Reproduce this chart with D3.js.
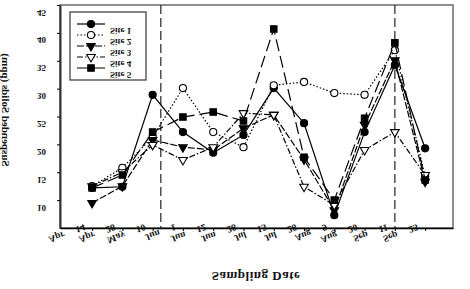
<!DOCTYPE html>
<html>
<head>
<meta charset="utf-8">
<script src="https://cdn.jsdelivr.net/npm/d3@7"></script>
<style>
  body { margin: 0; background: #fff; }
  svg text { font-family: "Liberation Serif", "Times New Roman", serif; font-weight: bold; fill: #111; }
</style>
</head>
<body>
<svg id="chart" width="470" height="289"></svg>
<script>
// sampling dates (categories)
const dates = ["Apr 14", "Apr 28", "May 10", "Jun 1", "Jun 12", "Jun 28",
               "Jul 15", "Jul 28", "Aug 9", "Aug 20", "Sep 11", "Sep 25"];

// suspended solids (ppm) per site
const site1 = [12.2, 12.4, 28.9, 22.2, 18.5, 21.7, 30.1, 23.8, 7.3, 22.2, 34.2, 19.3];
const site2 = [12.5, 15.8, 21.3, 30.1, 22.2, 19.5, 30.6, 31.2, 29.2, 28.9, 36.9, 14.3];
const site3 = [9.5, 12.5, 20.8, 19.5, 19.0, 22.9, 25.3, 17.3, 8.2, 23.5, 35.1, 13.3];
const site4 = [12.5, 15.0, 19.9, 17.2, 19.5, 25.6, 25.3, 12.4, 9.1, 19.0, 22.2, 14.5];
const site5 = [12.2, 14.5, 22.2, 24.9, 25.8, 24.2, 40.7, 17.7, 10.0, 24.7, 38.2, 13.6];

const siteNames = ["Site 1", "Site 2", "Site 3", "Site 4", "Site 5"];
const yTicks = [10, 15, 20, 25, 30, 35, 40, 45];

// event markers, in sampling-index units
const events = [2.27, 10];

const series = [
  { name: siteNames[0], values: site1, symbol: d3.symbolCircle, size: 40, fill: "#000", rot: 0, dash: null },
  { name: siteNames[1], values: site2, symbol: d3.symbolCircle, size: 40, fill: "#fff", rot: 0, dash: "1.5,2" },
  { name: siteNames[2], values: site3, symbol: d3.symbolTriangle, size: 32, fill: "#000", rot: 180, dash: "7,2" },
  { name: siteNames[3], values: site4, symbol: d3.symbolTriangle, size: 32, fill: "#fff", rot: 180, dash: "6,2,1.5,2" },
  { name: siteNames[4], values: site5, symbol: d3.symbolSquare, size: 42, fill: "#000", rot: 0, dash: "12,5" }
];

const svg = d3.select("#chart");

const x = d3.scaleLinear().domain([-1.06, 11.92]).range([60, 453]);
const y = d3.scaleLinear().domain([5, 45]).range([228, 5]);

// frame
svg.append("rect")
  .attr("x", 60).attr("y", 5)
  .attr("width", 393).attr("height", 223)
  .attr("fill", "none")
  .attr("stroke", "#555")
  .attr("stroke-width", 1.3);

// event lines
svg.selectAll(".event")
  .data(events)
  .enter()
  .append("line")
  .attr("x1", d => x(d)).attr("x2", d => x(d))
  .attr("y1", 5).attr("y2", 228)
  .attr("stroke", "#222")
  .attr("stroke-width", 1.2)
  .attr("stroke-dasharray", "9,4");

// y axis
const yAxis = svg.append("g")
  .attr("transform", "translate(60,0)")
  .call(d3.axisLeft(y).tickValues(yTicks).tickSize(3).tickSizeOuter(0));
yAxis.select(".domain").attr("stroke", "#333").attr("stroke-width", 2);
yAxis.selectAll("text")
  .attr("x", null).attr("dy", null)
  .attr("text-anchor", "end")
  .attr("font-size", 9)
  .attr("transform", "translate(-14,4) scale(1,-1)");

// x axis
const xAxis = svg.append("g")
  .attr("transform", "translate(0,228)")
  .call(d3.axisBottom(x).tickValues(d3.range(dates.length)).tickFormat("").tickSize(3).tickSizeOuter(0));
xAxis.select(".domain").attr("stroke", "#000").attr("stroke-width", 1.5);
xAxis.selectAll(".tick text").remove();

// date labels: month and day, spread apart, slanted and flipped
const xl = xAxis.selectAll(".tick")
  .append("text")
  .attr("fill", "#111")
  .attr("text-anchor", "end")
  .attr("font-size", 9.5)
  .attr("transform", "translate(-9,-4) rotate(-20) scale(1,-1)");
xl.append("tspan").text((d, i) => dates[i].split(" ")[0]);
xl.append("tspan").attr("dx", 12).text((d, i) => dates[i].split(" ")[1]);

// lines
const line = d3.line()
  .x((d, i) => x(i))
  .y(d => y(d));

series.forEach(s => {
  svg.append("path")
    .datum(s.values)
    .attr("d", line)
    .attr("fill", "none")
    .attr("stroke", "#000")
    .attr("stroke-width", 1.2)
    .attr("stroke-dasharray", s.dash);

  svg.selectAll(null)
    .data(s.values)
    .enter()
    .append("path")
    .attr("d", d3.symbol().type(s.symbol).size(s.size))
    .attr("transform", (d, i) => `translate(${x(i)},${y(d)}) rotate(${s.rot})`)
    .attr("fill", s.fill)
    .attr("stroke", "#000")
    .attr("stroke-width", 1.1);
});

// legend
const legend = svg.append("g");
legend.append("rect")
  .attr("x", 70).attr("y", 12)
  .attr("width", 76).attr("height", 68)
  .attr("fill", "#fff")
  .attr("stroke", "#444")
  .attr("stroke-width", 1.3);

series.forEach((s, i) => {
  const ly = 24 + i * 11;
  legend.append("line")
    .attr("x1", 77).attr("x2", 105)
    .attr("y1", ly).attr("y2", ly)
    .attr("stroke", "#000")
    .attr("stroke-width", 1.2)
    .attr("stroke-dasharray", s.dash);
  legend.append("path")
    .attr("d", d3.symbol().type(s.symbol).size(s.size))
    .attr("transform", `translate(91,${ly}) rotate(${s.rot})`)
    .attr("fill", s.fill)
    .attr("stroke", "#000")
    .attr("stroke-width", 1.1);
  legend.append("text")
    .attr("text-anchor", "start")
    .attr("font-size", 9)
    .attr("transform", `translate(110,${ly + 4}) scale(1,-1)`)
    .text(s.name);
});

// axis titles
svg.append("text")
  .attr("text-anchor", "middle")
  .attr("font-size", 13)
  .attr("letter-spacing", 0.5)
  .attr("transform", "translate(256,272) scale(1,-1)")
  .text("Sampling Date");

svg.append("text")
  .attr("text-anchor", "middle")
  .attr("font-size", 11)
  .attr("transform", "translate(2,110) rotate(-90) scale(1,-1)")
  .text("Suspended Solids (ppm)");
</script>
</body>
</html>
